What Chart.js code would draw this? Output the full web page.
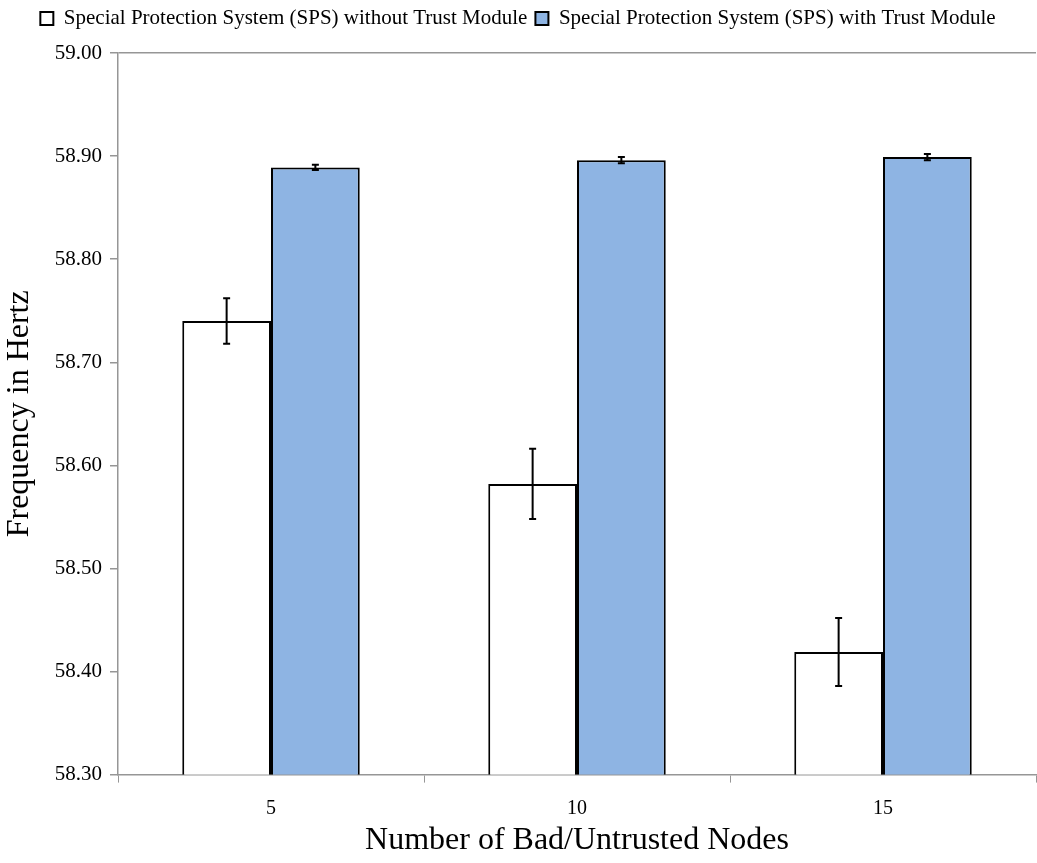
<!DOCTYPE html>
<html>
<head>
<meta charset="utf-8">
<script src="https://cdn.jsdelivr.net/npm/chart.js@4/dist/chart.umd.min.js"></script>
<style>
  body { margin: 0; background: #fff; }
  #wrap { width: 1037px; height: 863px; }
</style>
</head>
<body>
<div id="wrap"><canvas id="chart" width="1037" height="863"></canvas></div>
<script>
const nodes = ['5', '10', '15'];
const withoutTrust = [58.74, 58.582, 58.419];
const withoutTrustErr = [0.022, 0.034, 0.033];
const withTrust = [58.889, 58.896, 58.899];
const withTrustErr = [0.0025, 0.003, 0.003];

const serif = "'Liberation Serif', 'Times New Roman', serif";

// draws the error bars on top of each bar
const errorBars = {
	id: 'errorBars',
	afterDatasetsDraw(chart) {
		const ctx = chart.ctx;
		const y = chart.scales.y;
		chart.data.datasets.forEach((ds, di) => {
			const meta = chart.getDatasetMeta(di);
			meta.data.forEach((bar, i) => {
				const v = ds.data[i], e = ds.errors[i];
				const top = y.getPixelForValue(v + e);
				const bot = y.getPixelForValue(v - e);
				ctx.save();
				ctx.strokeStyle = '#000';
				ctx.lineWidth = 2;
				ctx.beginPath();
				ctx.moveTo(bar.x, top); ctx.lineTo(bar.x, bot);
				ctx.moveTo(bar.x - 3.5, top); ctx.lineTo(bar.x + 3.5, top);
				ctx.moveTo(bar.x - 3.5, bot); ctx.lineTo(bar.x + 3.5, bot);
				ctx.stroke();
				ctx.restore();
			});
		});
	}
};

// extra space under the legend
const legendGap = {
	id: 'legendGap',
	beforeInit(chart) {
		const fit = chart.legend.fit;
		chart.legend.fit = function () {
			fit.bind(chart.legend)();
			this.height += 14;
		};
	}
};

new Chart(document.getElementById('chart'), {
	type: 'bar',
	data: {
		labels: nodes,
		datasets: [
			{
				label: 'Special Protection System (SPS) without Trust Module',
				data: withoutTrust,
				errors: withoutTrustErr,
				backgroundColor: '#ffffff',
				borderColor: '#000000',
				borderWidth: 2,
				borderSkipped: false
			},
			{
				label: 'Special Protection System (SPS) with Trust Module',
				data: withTrust,
				errors: withTrustErr,
				backgroundColor: '#8eb4e3',
				borderColor: '#000000',
				borderWidth: 2,
				borderSkipped: false
			}
		]
	},
	options: {
		responsive: false,
		animation: false,
		layout: { padding: { left: 0, right: 1, top: 0, bottom: 3 } },
		datasets: { bar: { categoryPercentage: 0.58, barPercentage: 1.0 } },
		plugins: {
			tooltip: { enabled: false },
			legend: {
				position: 'top',
				labels: {
					boxWidth: 13,
					boxHeight: 13,
					padding: 8,
					color: '#000',
					font: { family: serif, size: 21 }
				}
			}
		},
		scales: {
			x: {
				offset: true,
				grid: {
					offset: true,
					drawOnChartArea: false,
					tickLength: 8,
					color: '#969696'
				},
				border: { color: '#969696', width: 1.5 },
				ticks: { color: '#000', padding: 14, font: { family: serif, size: 20 } },
				title: {
					display: true,
					text: 'Number of Bad/Untrusted Nodes',
					color: '#000',
					padding: { top: -13, bottom: 0 },
					font: { family: serif, size: 32 }
				}
			},
			y: {
				min: 58.3,
				max: 59.0,
				afterFit: s => { s.width = 118; },
				ticks: {
					stepSize: 0.1,
					color: '#000',
					padding: 8,
					font: { family: serif, size: 21 },
					callback: v => v.toFixed(2)
				},
				grid: {
					tickLength: 8,
					color: c => (c.tick && Math.abs(c.tick.value - 59) < 1e-6) ? '#969696' : 'rgba(0,0,0,0)',
					tickColor: '#969696',
					lineWidth: 1.5
				},
				border: { color: '#969696', width: 1.5 },
				title: {
					display: true,
					text: 'Frequency in Hertz',
					color: '#000',
					padding: { top: 0, bottom: 8 },
					font: { family: serif, size: 32 }
				}
			}
		}
	},
	plugins: [errorBars, legendGap]
});
</script>
</body>
</html>
